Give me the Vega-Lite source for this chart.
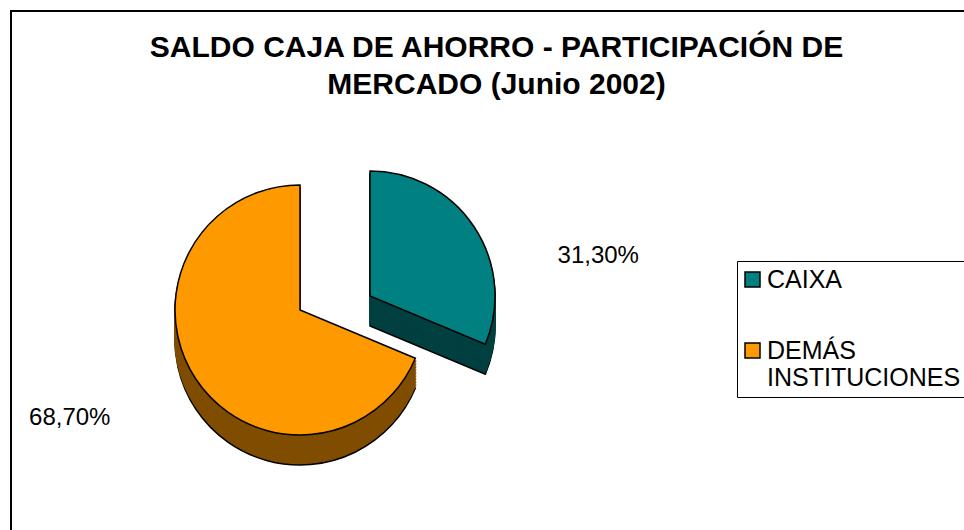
{
  "$schema": "https://vega.github.io/schema/vega-lite/v6.json",
  "width": 959,
  "height": 525,
  "autosize": {"type": "none"},
  "padding": {"left": 11, "top": 11, "right": -6, "bottom": -6},
  "background": "white",
  "title": {
    "text": ["SALDO CAJA DE AHORRO - PARTICIPACIÓN DE", "MERCADO (Junio 2002)"],
    "font": "Liberation Sans",
    "fontSize": 30,
    "fontWeight": "bold",
    "color": "black",
    "anchor": "middle",
    "frame": "group",
    "dx": 6,
    "offset": -90,
    "lineHeight": 37
  },
  "data": {
    "values": [
      {"cat": "CAIXA", "v": 31.3, "label": "31,30%"},
      {"cat": "DEMÁS INSTITUCIONES", "v": 68.7, "label": "68,70%"}
    ]
  },
  "transform": [{"stack": "v", "groupby": [], "sort": [{"field": "cat"}], "as": ["v0", "v1"]}],
  "layer": [
    {
      "mark": {"type": "rect", "fill": "white", "fillOpacity": 0, "stroke": "black", "strokeWidth": 2},
      "encoding": {}
    },
    {
      "transform": [{"filter": "datum.cat === 'CAIXA'"}],
      "mark": {"type": "arc", "radius": 125, "fill": "#004040", "stroke": "black", "strokeWidth": 1.5, "xOffset": -120.5, "yOffset": 52.5},
      "encoding": {"theta": {"field": "v0", "type": "quantitative", "scale": {"domain": [0, 100]}}, "theta2": {"field": "v1"}}
    },
    {
      "transform": [{"filter": "datum.cat === 'CAIXA'"}],
      "mark": {"type": "arc", "radius": 125, "fill": "#004040", "stroke": "#004040", "strokeWidth": 2, "xOffset": -120.5, "yOffset": 49.5},
      "encoding": {"theta": {"field": "v0", "type": "quantitative", "scale": {"domain": [0, 100]}}, "theta2": {"field": "v1"}}
    },
    {
      "transform": [{"filter": "datum.cat === 'CAIXA'"}],
      "mark": {"type": "arc", "radius": 125, "fill": "#004040", "stroke": "#004040", "strokeWidth": 2, "xOffset": -120.5, "yOffset": 46.5},
      "encoding": {"theta": {"field": "v0", "type": "quantitative", "scale": {"domain": [0, 100]}}, "theta2": {"field": "v1"}}
    },
    {
      "transform": [{"filter": "datum.cat === 'CAIXA'"}],
      "mark": {"type": "arc", "radius": 125, "fill": "#004040", "stroke": "#004040", "strokeWidth": 2, "xOffset": -120.5, "yOffset": 43.5},
      "encoding": {"theta": {"field": "v0", "type": "quantitative", "scale": {"domain": [0, 100]}}, "theta2": {"field": "v1"}}
    },
    {
      "transform": [{"filter": "datum.cat === 'CAIXA'"}],
      "mark": {"type": "arc", "radius": 125, "fill": "#004040", "stroke": "#004040", "strokeWidth": 2, "xOffset": -120.5, "yOffset": 40.5},
      "encoding": {"theta": {"field": "v0", "type": "quantitative", "scale": {"domain": [0, 100]}}, "theta2": {"field": "v1"}}
    },
    {
      "transform": [{"filter": "datum.cat === 'CAIXA'"}],
      "mark": {"type": "arc", "radius": 125, "fill": "#004040", "stroke": "#004040", "strokeWidth": 2, "xOffset": -120.5, "yOffset": 37.5},
      "encoding": {"theta": {"field": "v0", "type": "quantitative", "scale": {"domain": [0, 100]}}, "theta2": {"field": "v1"}}
    },
    {
      "transform": [{"filter": "datum.cat === 'CAIXA'"}],
      "mark": {"type": "arc", "radius": 125, "fill": "#004040", "stroke": "#004040", "strokeWidth": 2, "xOffset": -120.5, "yOffset": 34.5},
      "encoding": {"theta": {"field": "v0", "type": "quantitative", "scale": {"domain": [0, 100]}}, "theta2": {"field": "v1"}}
    },
    {
      "transform": [{"filter": "datum.cat === 'CAIXA'"}],
      "mark": {"type": "arc", "radius": 125, "fill": "#004040", "stroke": "#004040", "strokeWidth": 2, "xOffset": -120.5, "yOffset": 31.5},
      "encoding": {"theta": {"field": "v0", "type": "quantitative", "scale": {"domain": [0, 100]}}, "theta2": {"field": "v1"}}
    },
    {
      "transform": [{"filter": "datum.cat === 'CAIXA'"}],
      "mark": {"type": "arc", "radius": 125, "fill": "#004040", "stroke": "#004040", "strokeWidth": 2, "xOffset": -120.5, "yOffset": 28.5},
      "encoding": {"theta": {"field": "v0", "type": "quantitative", "scale": {"domain": [0, 100]}}, "theta2": {"field": "v1"}}
    },
    {
      "transform": [{"filter": "datum.cat === 'CAIXA'"}],
      "mark": {"type": "arc", "radius": 125, "fill": "#004040", "stroke": "#004040", "strokeWidth": 2, "xOffset": -120.5, "yOffset": 25.5},
      "encoding": {"theta": {"field": "v0", "type": "quantitative", "scale": {"domain": [0, 100]}}, "theta2": {"field": "v1"}}
    },
    {
      "transform": [{"filter": "datum.cat === 'CAIXA'"}],
      "mark": {"type": "arc", "radius": 125, "stroke": "black", "strokeWidth": 1.5, "xOffset": -120.5, "yOffset": 22.5},
      "encoding": {
        "theta": {"field": "v0", "type": "quantitative", "scale": {"domain": [0, 100]}},
        "theta2": {"field": "v1"},
        "color": {
          "field": "cat", "type": "nominal",
          "scale": {"domain": ["CAIXA", "DEMÁS INSTITUCIONES"], "range": ["#008080", "#FF9900"]},
          "legend": {
            "title": null,
            "orient": "none",
            "legendX": 726,
            "legendY": 250,
            "labelExpr": "datum.label === 'DEMÁS INSTITUCIONES' ? ['DEMÁS', 'INSTITUCIONES'] : datum.label"
          }
        }
      }
    },
    {
      "transform": [{"filter": "datum.cat !== 'CAIXA'"}],
      "mark": {"type": "arc", "radius": 125, "fill": "#804D00", "stroke": "black", "strokeWidth": 1.5, "xOffset": -190.5, "yOffset": 66.5},
      "encoding": {"theta": {"field": "v0", "type": "quantitative", "scale": {"domain": [0, 100]}}, "theta2": {"field": "v1"}}
    },
    {
      "transform": [{"filter": "datum.cat !== 'CAIXA'"}],
      "mark": {"type": "arc", "radius": 125, "fill": "#804D00", "stroke": "#804D00", "strokeWidth": 2, "xOffset": -190.5, "yOffset": 63.5},
      "encoding": {"theta": {"field": "v0", "type": "quantitative", "scale": {"domain": [0, 100]}}, "theta2": {"field": "v1"}}
    },
    {
      "transform": [{"filter": "datum.cat !== 'CAIXA'"}],
      "mark": {"type": "arc", "radius": 125, "fill": "#804D00", "stroke": "#804D00", "strokeWidth": 2, "xOffset": -190.5, "yOffset": 60.5},
      "encoding": {"theta": {"field": "v0", "type": "quantitative", "scale": {"domain": [0, 100]}}, "theta2": {"field": "v1"}}
    },
    {
      "transform": [{"filter": "datum.cat !== 'CAIXA'"}],
      "mark": {"type": "arc", "radius": 125, "fill": "#804D00", "stroke": "#804D00", "strokeWidth": 2, "xOffset": -190.5, "yOffset": 57.5},
      "encoding": {"theta": {"field": "v0", "type": "quantitative", "scale": {"domain": [0, 100]}}, "theta2": {"field": "v1"}}
    },
    {
      "transform": [{"filter": "datum.cat !== 'CAIXA'"}],
      "mark": {"type": "arc", "radius": 125, "fill": "#804D00", "stroke": "#804D00", "strokeWidth": 2, "xOffset": -190.5, "yOffset": 54.5},
      "encoding": {"theta": {"field": "v0", "type": "quantitative", "scale": {"domain": [0, 100]}}, "theta2": {"field": "v1"}}
    },
    {
      "transform": [{"filter": "datum.cat !== 'CAIXA'"}],
      "mark": {"type": "arc", "radius": 125, "fill": "#804D00", "stroke": "#804D00", "strokeWidth": 2, "xOffset": -190.5, "yOffset": 51.5},
      "encoding": {"theta": {"field": "v0", "type": "quantitative", "scale": {"domain": [0, 100]}}, "theta2": {"field": "v1"}}
    },
    {
      "transform": [{"filter": "datum.cat !== 'CAIXA'"}],
      "mark": {"type": "arc", "radius": 125, "fill": "#804D00", "stroke": "#804D00", "strokeWidth": 2, "xOffset": -190.5, "yOffset": 48.5},
      "encoding": {"theta": {"field": "v0", "type": "quantitative", "scale": {"domain": [0, 100]}}, "theta2": {"field": "v1"}}
    },
    {
      "transform": [{"filter": "datum.cat !== 'CAIXA'"}],
      "mark": {"type": "arc", "radius": 125, "fill": "#804D00", "stroke": "#804D00", "strokeWidth": 2, "xOffset": -190.5, "yOffset": 45.5},
      "encoding": {"theta": {"field": "v0", "type": "quantitative", "scale": {"domain": [0, 100]}}, "theta2": {"field": "v1"}}
    },
    {
      "transform": [{"filter": "datum.cat !== 'CAIXA'"}],
      "mark": {"type": "arc", "radius": 125, "fill": "#804D00", "stroke": "#804D00", "strokeWidth": 2, "xOffset": -190.5, "yOffset": 42.5},
      "encoding": {"theta": {"field": "v0", "type": "quantitative", "scale": {"domain": [0, 100]}}, "theta2": {"field": "v1"}}
    },
    {
      "transform": [{"filter": "datum.cat !== 'CAIXA'"}],
      "mark": {"type": "arc", "radius": 125, "fill": "#804D00", "stroke": "#804D00", "strokeWidth": 2, "xOffset": -190.5, "yOffset": 39.5},
      "encoding": {"theta": {"field": "v0", "type": "quantitative", "scale": {"domain": [0, 100]}}, "theta2": {"field": "v1"}}
    },
    {
      "transform": [{"filter": "datum.cat !== 'CAIXA'"}],
      "mark": {"type": "arc", "radius": 125, "stroke": "black", "strokeWidth": 1.5, "xOffset": -190.5, "yOffset": 36.5},
      "encoding": {
        "theta": {"field": "v0", "type": "quantitative", "scale": {"domain": [0, 100]}},
        "theta2": {"field": "v1"},
        "color": {"field": "cat", "type": "nominal"}
      }
    },
    {
      "mark": {"type": "text", "radius": 140, "font": "Liberation Sans", "fontSize": 24, "color": "black", "align": "left", "baseline": "middle", "xOffset": -120.5, "yOffset": 22.5, "dx": 71, "dy": 38},
      "encoding": {
        "theta": {"field": "v", "type": "quantitative", "stack": true, "scale": {"domain": [0, 100]}},
        "order": {"field": "cat", "sort": "ascending"},
        "detail": {"field": "cat"},
        "text": {"condition": {"test": "datum.cat === 'CAIXA'", "field": "label"}, "value": ""}
      }
    },
    {
      "mark": {"type": "text", "radius": 140, "font": "Liberation Sans", "fontSize": 24, "color": "black", "align": "right", "baseline": "middle", "xOffset": -190.5, "yOffset": 36.5, "dx": -73, "dy": 30},
      "encoding": {
        "theta": {"field": "v", "type": "quantitative", "stack": true, "scale": {"domain": [0, 100]}},
        "order": {"field": "cat", "sort": "ascending"},
        "detail": {"field": "cat"},
        "text": {"condition": {"test": "datum.cat !== 'CAIXA'", "field": "label"}, "value": ""}
      }
    }
  ],
  "config": {
    "view": {"stroke": "black", "strokeWidth": 2},
    "style": {"guide-label": {"lineHeight": 27}},
    "legend": {
      "strokeColor": "black",
      "fillColor": "white",
      "padding": 6,
      "symbolType": "square",
      "symbolSize": 225,
      "symbolStrokeColor": "black",
      "symbolStrokeWidth": 1.5,
      "symbolOpacity": 1,
      "symbolOffset": -3,
      "labelFont": "Liberation Sans",
      "labelFontSize": 25,
      "labelColor": "black",
      "labelLimit": 0,
      "labelOffset": 2,
      "rowPadding": 45
    }
  }
}
